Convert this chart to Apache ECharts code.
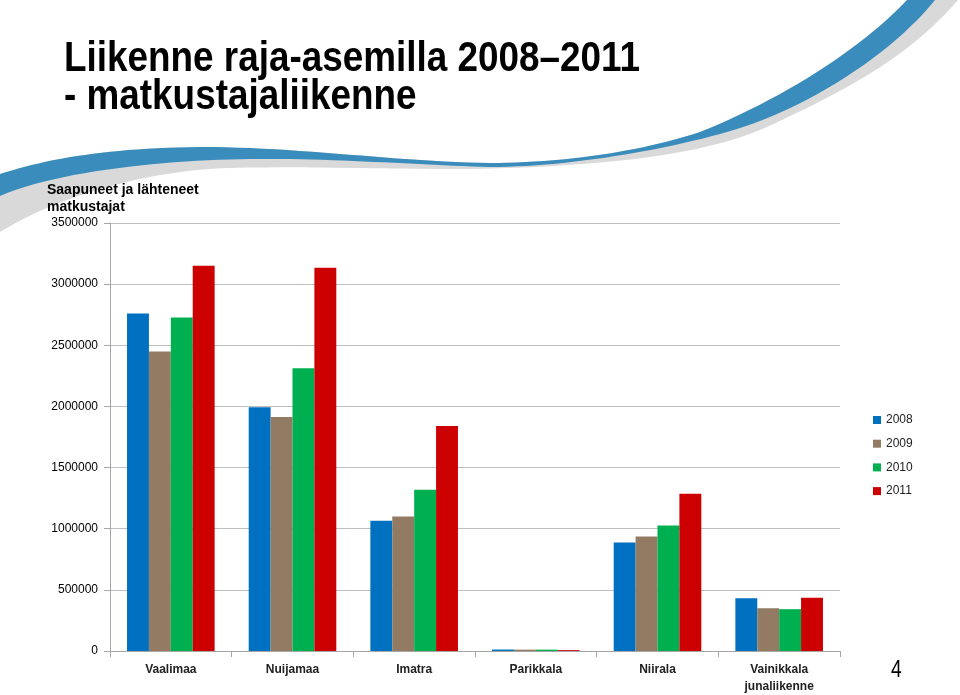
<!DOCTYPE html>
<html>
<head>
<meta charset="utf-8">
<script src="https://cdn.jsdelivr.net/npm/echarts@6/dist/echarts.min.js"></script>
<style>html,body{margin:0;padding:0;background:#fff;}#c{width:960px;height:695px;}</style>
</head>
<body>
<div id="c"></div>
<script>
const categories = ['Vaalimaa', 'Nuijamaa', 'Imatra', 'Parikkala', 'Niirala', 'Vainikkala\njunaliikenne'];
const years = ['2008', '2009', '2010', '2011'];
const v2008 = [2759000, 1994000, 1066000, 12000, 887000, 431000];
const v2009 = [2450000, 1913000, 1099000, 11000, 936000, 350000];
const v2010 = [2727000, 2312000, 1319000, 11000, 1026000, 342000];
const v2011 = [3150000, 3134000, 1840000, 7000, 1286000, 436000];
const yTicks = { min: 0, max: 3500000, interval: 500000 };
const colors = ['#0070C0', '#937B63', '#00B050', '#CC0000'];

const chart = echarts.init(document.getElementById('c'));
const seriesData = [v2008, v2009, v2010, v2011];
const sans = "'Liberation Sans', Arial, sans-serif";

// decorative swoosh: sample cubic bezier segments into polygon points
function curve(start, segs) {
  const pts = [start];
  let p0 = start;
  segs.forEach(s => {
    const [c1, c2, p3] = s;
    for (let k = 1; k <= 24; k++) {
      const t = k / 24, u = 1 - t;
      pts.push([
        u*u*u*p0[0] + 3*u*u*t*c1[0] + 3*u*t*t*c2[0] + t*t*t*p3[0],
        u*u*u*p0[1] + 3*u*u*t*c1[1] + 3*u*t*t*c2[1] + t*t*t*p3[1]
      ]);
    }
    p0 = p3;
  });
  return pts;
}
const topEdge = curve([0,174], [
  [[50,158],[110,148],[200,147]],
  [[300,147],[400,162],[490,163]],
  [[560,163],[640,152],[700,132]],
  [[780,100],[860,50],[907,0]]
]);
const blueBottom = curve([935,0], [
  [[895,50],[810,110],[720,134]],
  [[650,153],[560,167],[490,167]],
  [[420,165],[330,158],[250,159]],
  [[170,160],[60,170],[0,196]]
]);
const grayBottom = curve([958,0], [
  [[915,50],[860,85],[760,130]],
  [[700,155],[600,167],[467,169]],
  [[380,169],[300,166],[230,168]],
  [[150,170],[60,195],[0,232]]
]);
const grayPts = topEdge.concat(grayBottom);
const bluePts = topEdge.concat(blueBottom);

chart.setOption({
  animation: false,
  backgroundColor: '#fff',
  color: colors,
  graphic: [
    { type: 'polygon', z: -10, shape: { points: grayPts }, style: { fill: '#d9d9d9' } },
    { type: 'polygon', z: -9, shape: { points: bluePts }, style: { fill: '#3a8cbc' } },
    { type: 'text', x: 64, y: 38, scaleX: 0.878, style: { text: 'Liikenne raja-asemilla 2008–2011', font: 'bold 42px ' + sans, fill: '#000' } },
    { type: 'text', x: 64, y: 76, scaleX: 0.878, style: { text: '- matkustajaliikenne', font: 'bold 42px ' + sans, fill: '#000' } },
    { type: 'text', x: 47, y: 183, style: { text: 'Saapuneet ja lähteneet', font: 'bold 14px ' + sans, fill: '#000' } },
    { type: 'text', x: 47, y: 200, style: { text: 'matkustajat', font: 'bold 14px ' + sans, fill: '#000' } },
    { type: 'text', x: 891, y: 658, scaleX: 0.8, style: { text: '4', font: '24px ' + sans, fill: '#000' } }
  ],
  legend: {
    data: years, orient: 'vertical', left: 868, top: 409,
    itemWidth: 8, itemHeight: 8, itemGap: 11.7, icon: 'rect',
    textStyle: { fontFamily: sans, fontSize: 12, color: '#222' }
  },
  grid: { left: 110, right: 120, top: 223, bottom: 42, containLabel: false },
  xAxis: {
    type: 'category', data: categories,
    axisLine: { lineStyle: { color: '#a6a6a6' } },
    axisTick: { show: true, length: 6, lineStyle: { color: '#a6a6a6' } },
    axisLabel: { fontFamily: sans, fontWeight: 'bold', fontSize: 12, color: '#222', margin: 10, lineHeight: 17, interval: 0 }
  },
  yAxis: {
    type: 'value', min: yTicks.min, max: yTicks.max, interval: yTicks.interval,
    axisLine: { show: true, lineStyle: { color: '#a6a6a6' } },
    axisTick: { show: true, length: 6, lineStyle: { color: '#a6a6a6' } },
    splitLine: { lineStyle: { color: '#bfbfbf' } },
    axisLabel: { fontFamily: sans, fontSize: 12, color: '#000', margin: 12, formatter: v => String(v) }
  },
  series: years.map((y, i) => ({
    name: y, type: 'bar', data: seriesData[i],
    barGap: '0%', barCategoryGap: '28%',
    itemStyle: { color: colors[i] }
  }))
});
</script>
</body>
</html>
